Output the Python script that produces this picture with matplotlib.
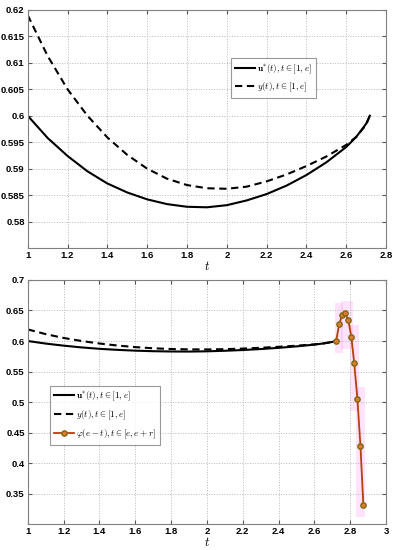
import matplotlib
matplotlib.use('Agg')
import matplotlib.pyplot as plt
import numpy as np

# values
t_vals = [1.0, 1.1, 1.2, 1.3, 1.4, 1.5, 1.6, 1.7, 1.8, 1.9, 2.0,
          2.1, 2.2, 2.3, 2.4, 2.5, 2.6, 2.65, 2.7, 2.718]
u_vals = [0.6000, 0.5958, 0.5924, 0.5895, 0.5872, 0.5855, 0.5842, 0.5833, 0.5828, 0.5827, 0.5831,
          0.5840, 0.5852, 0.5868, 0.5888, 0.5912, 0.5941, 0.5960, 0.5985, 0.6000]
y_vals = [0.6190, 0.6113, 0.6050, 0.6000, 0.5959, 0.5926, 0.5900, 0.5881, 0.5869, 0.5863, 0.5862,
          0.5866, 0.5876, 0.5889, 0.5905, 0.5923, 0.5945, 0.5960, 0.5983, 0.6000]

phi_t = [2.721, 2.738, 2.754, 2.772, 2.789, 2.806, 2.822, 2.840, 2.857, 2.873]
phi_v = [0.6001, 0.6271, 0.6424, 0.6452, 0.6342, 0.6068, 0.5640, 0.5048, 0.4274, 0.3315]

lab_u = r'$\mathbf{u}^{*}(t), t\in[1,e]$'
lab_y = r'$y(t), t\in[1,e]$'
lab_phi = r'$\varphi(e-t), t\in[e,e+r]$'

plt.rcParams['mathtext.fontset'] = 'cm'
plt.rcParams['font.family'] = ['Liberation Sans', 'DejaVu Sans']

fig = plt.figure(figsize=(3.96, 5.5), dpi=100)
ax1 = fig.add_axes([0.070, 0.549, 0.905, 0.433])
ax2 = fig.add_axes([0.070, 0.047, 0.905, 0.444])

DASH = (0, (3.5, 2.2))


def style(ax):
    ax.grid(True, linestyle=':', color='#b8b8b8', linewidth=0.7)
    ax.tick_params(direction='in', top=True, right=True, length=3,
                   labelsize=6.8, pad=2.2, color='#555555')
    for lab in ax.get_xticklabels() + ax.get_yticklabels():
        lab.set_fontweight('bold')
    for s in ax.spines.values():
        s.set_color('#808080')
        s.set_linewidth(0.8)
    ax.set_xlabel(r'$t$', fontsize=9, labelpad=0)


# top panel
ax1.plot(t_vals, u_vals, 'k-', lw=1.5, label=lab_u)
ax1.plot(t_vals, y_vals, color='k', ls=DASH, lw=1.5, label=lab_y)
ax1.set_xlim(1, 2.8)
ax1.set_ylim(0.575, 0.62)
ax1.set_xticks(np.arange(1, 2.81, 0.2))
ax1.set_xticklabels(['1', '1.2', '1.4', '1.6', '1.8', '2', '2.2', '2.4', '2.6', '2.8'])
ax1.set_yticks(np.arange(0.58, 0.6201, 0.005))
ax1.set_yticklabels(['0.58', '0.585', '0.59', '0.595', '0.6', '0.605', '0.61', '0.615', '0.62'])
style(ax1)
leg1 = ax1.legend(loc='upper left', bbox_to_anchor=(0.555, 0.815), fontsize=6.5,
                  fancybox=False, edgecolor='#808080', handlelength=2.2,
                  handletextpad=0.2, borderpad=0.45, labelspacing=0.5)
leg1.get_frame().set_linewidth(0.8)

# bottom panel
ax2.plot(t_vals, u_vals, 'k-', lw=1.5, label=lab_u)
ax2.plot(t_vals, y_vals, color='k', ls=DASH, lw=1.5, label=lab_y)
# faint magenta highlight boxes behind the phi points
for a, b in [(0, 3), (2, 6), (5, 8), (7, 10)]:
    xs = phi_t[a:b]
    vs = phi_v[a:b]
    ax2.fill_between([min(xs) - 0.007, max(xs) + 0.007],
                     min(vs) - 0.02, max(vs) + 0.02,
                     color='#ff55ee', alpha=0.16, lw=0, zorder=1)
ax2.plot(phi_t, phi_v, '-o', color='#b5400c', lw=1.3, ms=3.8,
         mfc='#e07a30', mec='#7a6a10', mew=1.0, label=lab_phi, zorder=3)
ax2.set_xlim(1, 3)
ax2.set_ylim(0.3, 0.7)
ax2.set_xticks(np.arange(1, 3.01, 0.2))
ax2.set_xticklabels(['1', '1.2', '1.4', '1.6', '1.8', '2', '2.2', '2.4', '2.6', '2.8', '3'])
ax2.set_yticks(np.arange(0.35, 0.701, 0.05))
ax2.set_yticklabels(['0.35', '0.4', '0.45', '0.5', '0.55', '0.6', '0.65', '0.7'])
style(ax2)
leg2 = ax2.legend(loc='upper left', bbox_to_anchor=(0.05, 0.585), fontsize=6.5,
                  fancybox=False, edgecolor='#808080', handlelength=2.2,
                  handletextpad=0.2, borderpad=0.45, labelspacing=0.6)
leg2.get_frame().set_linewidth(0.8)

fig.savefig('out.png', dpi=100)
